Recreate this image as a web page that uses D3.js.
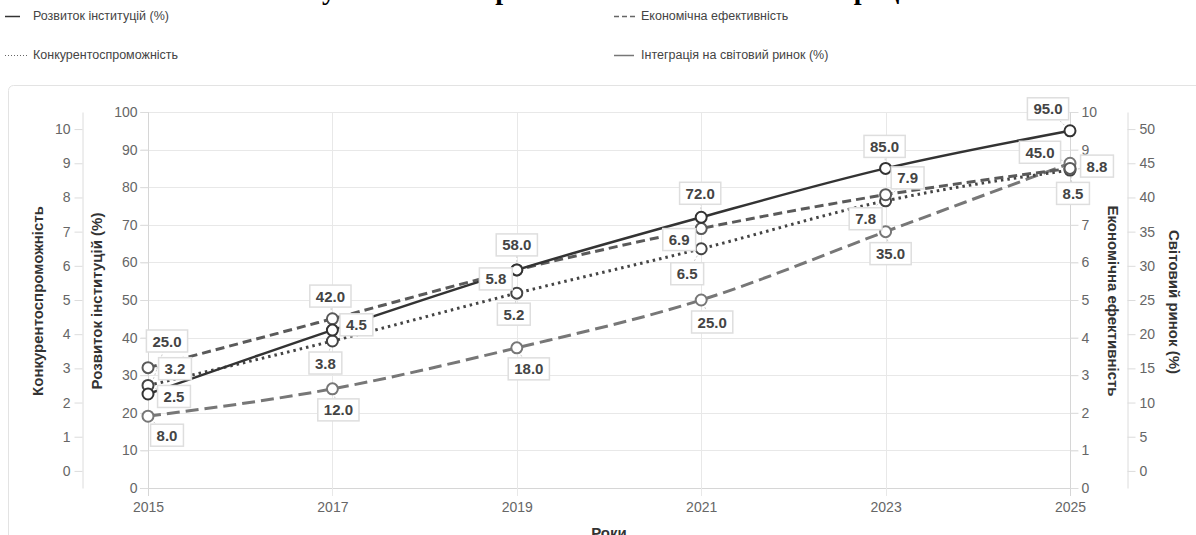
<!DOCTYPE html>
<html>
<head>
<meta charset="utf-8">
<script src="https://cdn.jsdelivr.net/npm/d3@7"></script>
<style>
  html, body { margin: 0; padding: 0; background: #fff; }
  svg { display: block; font-family: "Liberation Sans", Arial, Helvetica, sans-serif; }
</style>
</head>
<body>
<svg id="chart" width="1196" height="535"></svg>
<script>
// ---------- DATA ----------
const years = ['2015', '2017', '2019', '2021', '2023', '2025'];
const institutions = [25, 42, 58, 72, 85, 95];          // Розвиток інституцій (%)
const efficiency = [3.2, 4.5, 5.8, 6.9, 7.8, 8.5];       // Економічна ефективність
const competitiveness = [2.5, 3.8, 5.2, 6.5, 7.9, 8.8];  // Конкурентоспроможність
const worldMarket = [8, 12, 18, 25, 35, 45];             // Інтеграція на світовий ринок (%)

const institutionTicks = [0, 10, 20, 30, 40, 50, 60, 70, 80, 90, 100];
const efficiencyTicks = [0, 1, 2, 3, 4, 5, 6, 7, 8, 9, 10];
const competitivenessTicks = [0, 1, 2, 3, 4, 5, 6, 7, 8, 9, 10];
const worldMarketTicks = [0, 5, 10, 15, 20, 25, 30, 35, 40, 45, 50];

const titleText = 'Вплив інститутів на стан і розвиток економіки та інтеграції';
const xTitle = 'Роки';

// ---------- LAYOUT ----------
const svg = d3.select('#chart');
const plotTop = 112, plotBottom = 488;
const x = d3.scalePoint().domain(years).range([148, 1070]);
const yInst = d3.scaleLinear().domain([0, 100]).range([plotBottom, plotTop]);
const yEff = d3.scaleLinear().domain([0, 10]).range([plotBottom, plotTop]);
const yComp = d3.scaleLinear().domain([-0.5, 10.5]).range([plotBottom, plotTop]);
const yWorld = d3.scaleLinear().domain([-2.5, 52.5]).range([plotBottom, plotTop]);

// title (mostly above the viewport)
const title = svg.append('text').attr('x', 0).attr('y', -1).attr('text-anchor', 'start')
  .attr('font-family', '"Liberation Serif", "Times New Roman", serif')
  .attr('font-weight', 'bold').attr('font-size', 28).attr('fill', '#000')
  .text(titleText);
{
  const idx = titleText.indexOf('у');
  const p = title.node().getStartPositionOfChar(idx).x;
  title.attr('x', 322 - p);
}

// card border
svg.append('rect').attr('x', 8.5).attr('y', 85.5).attr('width', 1220).attr('height', 500)
  .attr('rx', 5).attr('fill', 'none').attr('stroke', '#e3e3e3').attr('stroke-width', 1);

// ---------- SERIES CONFIG ----------
const series = [
  { name: 'Світовий ринок', values: worldMarket, y: yWorld, color: '#777', width: 3, dash: '13,6',
    offsets: [[19, 19], [6, 21], [12, 21], [11, 22], [5, 22], [-30, -11]] },
  { name: 'Конкурентоспроможність', values: competitiveness, y: yComp, color: '#444', width: 3, dash: '2.5,4',
    offsets: [[26, 11], [-7, 22], [-3, 21], [-14, 25], [22, -23], [27, -4]] },
  { name: 'Економічна ефективність', values: efficiency, y: yEff, color: '#5a5a5a', width: 3, dash: '9,5',
    offsets: [[27, 1], [24, 6], [-21, 9], [-22, 11], [-20, 24], [3, 25]] },
  { name: 'Розвиток інституцій', values: institutions, y: yInst, color: '#333', width: 2.5, dash: null,
    offsets: [[19, -53], [-2, -34], [0, -25], [-1, -24], [-1, -22], [-22, -22]] }
];

// ---------- GRID ----------
const grid = svg.append('g');
institutionTicks.forEach(t => {
  grid.append('line').attr('x1', 140).attr('x2', 1078)
    .attr('y1', Math.round(yInst(t)) + 0.5).attr('y2', Math.round(yInst(t)) + 0.5)
    .attr('stroke', t === 0 ? '#d6d6d6' : '#e8e8e8').attr('stroke-width', 1);
});
years.forEach(yr => {
  grid.append('line').attr('x1', Math.round(x(yr)) + 0.5).attr('x2', Math.round(x(yr)) + 0.5)
    .attr('y1', plotTop).attr('y2', plotBottom + 8)
    .attr('stroke', (yr === years[0] || yr === years[years.length - 1]) ? '#d6d6d6' : '#e8e8e8');
});

// ---------- AXES ----------
function styleAxis(g) {
  g.select('.domain').attr('stroke', '#dcdcdc');
  g.selectAll('.tick line').attr('stroke', '#dcdcdc');
  g.selectAll('.tick text').attr('fill', '#666').attr('font-size', 14)
    .attr('font-family', '"Liberation Sans", Arial, sans-serif');
}
svg.append('g').attr('transform', 'translate(82.5,0)')
  .call(d3.axisLeft(yComp).tickValues(competitivenessTicks).tickSize(8).tickPadding(4).tickSizeOuter(0))
  .call(styleAxis);
svg.append('g').attr('transform', 'translate(148.5,0)')
  .call(d3.axisLeft(yInst).tickValues(institutionTicks).tickSize(8).tickPadding(3).tickSizeOuter(0))
  .call(styleAxis).call(g => g.select('.domain').remove());
svg.append('g').attr('transform', 'translate(1070.5,0)')
  .call(d3.axisRight(yEff).tickValues(efficiencyTicks).tickSize(8).tickPadding(3).tickSizeOuter(0))
  .call(styleAxis).call(g => g.select('.domain').remove());
svg.append('g').attr('transform', 'translate(1127.5,0)')
  .call(d3.axisRight(yWorld).tickValues(worldMarketTicks).tickSize(8).tickPadding(4).tickSizeOuter(0))
  .call(styleAxis);
svg.append('g').attr('transform', `translate(0,${plotBottom})`)
  .call(d3.axisBottom(x).tickSize(0).tickPadding(14))
  .call(styleAxis).call(g => g.select('.domain').remove());

function axisTitle(txt, cx, cy, rot) {
  svg.append('text').attr('transform', `translate(${cx},${cy}) rotate(${rot})`)
    .attr('text-anchor', 'middle').attr('dominant-baseline', 'central')
    .attr('font-size', 15).attr('font-weight', 'bold').attr('fill', '#333').text(txt);
}
axisTitle('Конкурентоспроможність', 37, 301, -90);
axisTitle('Розвиток інституцій (%)', 96, 301, -90);
axisTitle('Економічна ефективність', 1113, 301, 90);
axisTitle('Світовий ринок (%)', 1174, 302, 90);
svg.append('text').attr('x', 609).attr('y', 538).attr('text-anchor', 'middle')
  .attr('font-size', 15).attr('font-weight', 'bold').attr('fill', '#333').text(xTitle);

// ---------- LINES ----------
series.forEach(s => {
  const line = d3.line().x((d, i) => x(years[i])).y(d => s.y(d)).curve(d3.curveMonotoneX);
  svg.append('path').datum(s.values).attr('d', line).attr('fill', 'none')
    .attr('stroke', s.color).attr('stroke-width', s.width)
    .attr('stroke-dasharray', s.dash);
});

// leader lines
series.forEach(s => {
  s.values.forEach((v, i) => {
    const px = x(years[i]), py = s.y(v);
    svg.append('line').attr('x1', px).attr('y1', py)
      .attr('x2', px + s.offsets[i][0]).attr('y2', py + s.offsets[i][1])
      .attr('stroke', '#ccc').attr('stroke-width', 1).attr('stroke-dasharray', '2,2');
  });
});

// points
series.forEach(s => {
  svg.append('g').selectAll('circle').data(s.values).join('circle')
    .attr('cx', (d, i) => x(years[i])).attr('cy', d => s.y(d)).attr('r', 5.5)
    .attr('fill', '#fff').attr('stroke', s.color).attr('stroke-width', 2);
});

// data labels
series.forEach(s => {
  s.values.forEach((v, i) => {
    const cx = x(years[i]) + s.offsets[i][0], cy = s.y(v) + s.offsets[i][1];
    const g = svg.append('g').attr('transform', `translate(${cx},${cy})`);
    const t = g.append('text').attr('text-anchor', 'middle').attr('dominant-baseline', 'central')
      .attr('font-size', 15).attr('font-weight', 'bold').attr('fill', '#444').text(v.toFixed(1));
    const w = t.node().getComputedTextLength() + 12, h = 22;
    g.insert('rect', 'text').attr('x', -w / 2).attr('y', -h / 2).attr('width', w).attr('height', h)
      .attr('fill', '#fff').attr('stroke', '#dedede').attr('stroke-width', 1.5);
  });
});

// ---------- LEGEND ----------
const legendItems = [
  { label: 'Розвиток інституцій (%)', x1: 5, x2: 20, tx: 33, y: 16, color: '#333', dash: null, w: 1.5 },
  { label: 'Економічна ефективність', x1: 614, x2: 635, tx: 641, y: 16, color: '#666', dash: '5,3', w: 1.5 },
  { label: 'Конкурентоспроможність', x1: 5, x2: 28, tx: 33, y: 55, color: '#666', dash: '1,2', w: 1.2 },
  { label: 'Інтеграція на світовий ринок (%)', x1: 614, x2: 634, tx: 641, y: 55, color: '#777', dash: null, w: 1.5 }
];
legendItems.forEach(it => {
  svg.append('line').attr('x1', it.x1).attr('x2', it.x2).attr('y1', it.y + 0.5).attr('y2', it.y + 0.5)
    .attr('stroke', it.color).attr('stroke-width', it.w).attr('stroke-dasharray', it.dash);
  svg.append('text').attr('x', it.tx).attr('y', it.y).attr('dominant-baseline', 'central')
    .attr('font-size', 12.5).attr('fill', '#444').text(it.label);
});
</script>
</body>
</html>
